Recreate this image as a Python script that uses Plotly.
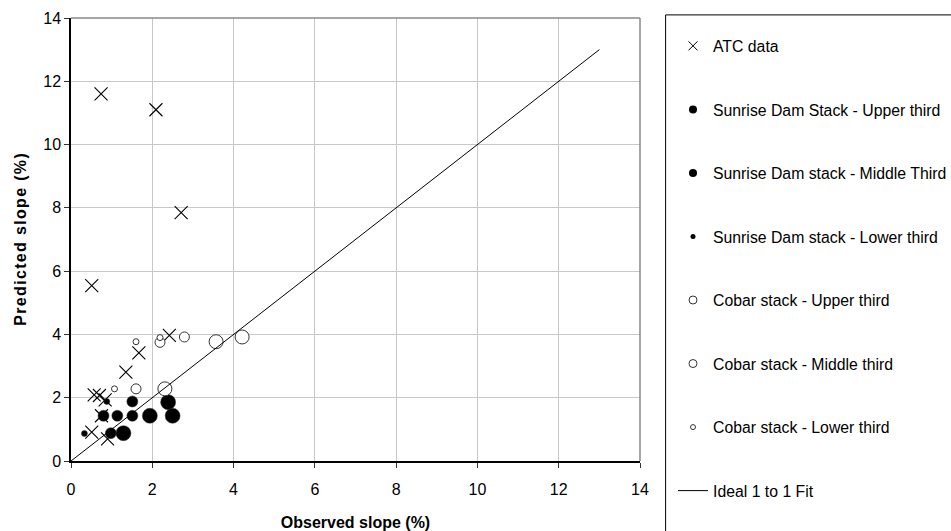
import plotly.graph_objects as go

# ---- data ----
atc_x = [0.74, 2.09, 2.71, 0.51, 2.42, 1.67, 1.35, 0.57, 0.70, 0.84, 0.75, 0.51, 0.90]
atc_y = [11.6, 11.1, 7.85, 5.54, 3.97, 3.42, 2.81, 2.09, 2.07, 1.93, 1.43, 0.91, 0.70]

sd_upper_x = [0.80, 1.14, 1.51, 1.51, 0.98]
sd_upper_y = [1.43, 1.43, 1.43, 1.88, 0.88]
sd_middle_x = [1.29, 1.94, 2.39, 2.50]
sd_middle_y = [0.88, 1.43, 1.86, 1.43]
sd_lower_x = [0.33, 0.88]
sd_lower_y = [0.87, 1.88]

cb_upper_x = [3.57, 4.21, 2.31]
cb_upper_y = [3.77, 3.92, 2.28]
cb_middle_x = [2.19, 2.79, 1.60]
cb_middle_y = [3.75, 3.92, 2.28]
cb_lower_x = [1.60, 2.19, 1.07]
cb_lower_y = [3.77, 3.90, 2.28]

fit_x = [0, 13]
fit_y = [0, 13]

names = ["ATC data", "Sunrise Dam Stack - Upper third", "Sunrise Dam stack - Middle Third",
         "Sunrise Dam stack - Lower third", "Cobar stack - Upper third",
         "Cobar stack - Middle third", "Cobar stack - Lower third", "Ideal 1 to 1 Fit"]

x_ticks = [0, 2, 4, 6, 8, 10, 12, 14]
y_ticks = [0, 2, 4, 6, 8, 10, 12, 14]

FONT = "Liberation Sans, Arial, sans-serif"

fig = go.Figure()

# data traces (no legend)
fig.add_trace(go.Scatter(x=atc_x, y=atc_y, mode="markers", showlegend=False,
                         marker=dict(symbol="x-thin", size=13, color="black",
                                     line=dict(color="black", width=1.1))))
fig.add_trace(go.Scatter(x=sd_upper_x, y=sd_upper_y, mode="markers", showlegend=False,
                         marker=dict(symbol="circle", size=11, color="black",
                                     line=dict(color="#333", width=0.5))))
fig.add_trace(go.Scatter(x=sd_middle_x, y=sd_middle_y, mode="markers", showlegend=False,
                         marker=dict(symbol="circle", size=15, color="black",
                                     line=dict(color="#333", width=0.5))))
fig.add_trace(go.Scatter(x=sd_lower_x, y=sd_lower_y, mode="markers", showlegend=False,
                         marker=dict(symbol="circle", size=6, color="black",
                                     line=dict(color="#333", width=0.5))))
fig.add_trace(go.Scatter(x=cb_upper_x, y=cb_upper_y, mode="markers", showlegend=False,
                         marker=dict(symbol="circle", size=14, color="white",
                                     line=dict(color="#333", width=1))))
fig.add_trace(go.Scatter(x=cb_middle_x, y=cb_middle_y, mode="markers", showlegend=False,
                         marker=dict(symbol="circle", size=10, color="white",
                                     line=dict(color="#333", width=1))))
fig.add_trace(go.Scatter(x=cb_lower_x, y=cb_lower_y, mode="markers", showlegend=False,
                         marker=dict(symbol="circle", size=6, color="white",
                                     line=dict(color="#333", width=1))))
fig.add_trace(go.Scatter(x=fit_x, y=fit_y, mode="lines", showlegend=False,
                         line=dict(color="black", width=1)))

# legend-only traces
leg_specs = [
    dict(mode="markers", marker=dict(symbol="x-thin", size=9, color="black", line=dict(color="black", width=1))),
    dict(mode="markers", marker=dict(symbol="circle", size=8, color="black")),
    dict(mode="markers", marker=dict(symbol="circle", size=8, color="black")),
    dict(mode="markers", marker=dict(symbol="circle", size=5, color="black")),
    dict(mode="markers", marker=dict(symbol="circle", size=8, color="white", line=dict(color="#333", width=1))),
    dict(mode="markers", marker=dict(symbol="circle", size=8, color="white", line=dict(color="#333", width=1))),
    dict(mode="markers", marker=dict(symbol="circle", size=5, color="white", line=dict(color="#333", width=1))),
    dict(mode="lines", line=dict(color="black", width=1)),
]
for i, (nm, spec) in enumerate(zip(names, leg_specs)):
    fig.add_trace(go.Scatter(x=[None], y=[None], name=nm, legendgroup=f"g{i}", **spec))

ytitle = "\u200a".join("Predicted slope (%)")

fig.update_layout(
    width=951, height=531,
    margin=dict(l=71, r=311, t=18, b=70, autoexpand=False),
    paper_bgcolor="white", plot_bgcolor="white",
    font=dict(family=FONT, size=16, color="black"),
    legend=dict(x=1.058, xanchor="left", y=0.975, yanchor="top",
                tracegroupgap=40, font=dict(size=15.8), borderwidth=0,
                bgcolor="rgba(0,0,0,0)", itemsizing="trace", maxheight=700),
    xaxis=dict(range=[0, 14], tickvals=x_ticks, ticks="outside", ticklen=5,
               tickcolor="#333", showgrid=True, gridcolor="#c8c8c8", gridwidth=1,
               showline=True, linecolor="black", linewidth=1.5, zeroline=False,
               mirror=False, tickfont=dict(size=16), automargin=False, ticklabelstandoff=8,
               title=dict(text="<b>Observed slope (%)</b>", font=dict(size=16), standoff=26)),
    yaxis=dict(range=[0, 14], tickvals=y_ticks, ticks="outside", ticklen=5,
               tickcolor="#333", showgrid=True, gridcolor="#c8c8c8", gridwidth=1,
               showline=True, linecolor="black", linewidth=1.5, zeroline=False,
               tickfont=dict(size=16), automargin=False,
               title=dict(text="<b>" + ytitle + "</b>", font=dict(size=16), standoff=13)),
    shapes=[
        dict(type="rect", xref="paper", yref="paper", x0=1.045, x1=1.6, y0=-0.3, y1=1.007,
             line=dict(color="black", width=1), fillcolor="rgba(0,0,0,0)", layer="above"),
        dict(type="line", xref="paper", yref="paper", x0=0, x1=1, y0=1, y1=1,
             line=dict(color="#888", width=1.5)),
        dict(type="line", xref="paper", yref="paper", x0=1, x1=1, y0=0, y1=1,
             line=dict(color="#888", width=1.5)),
    ],
)

fig.write_html("out.html")
